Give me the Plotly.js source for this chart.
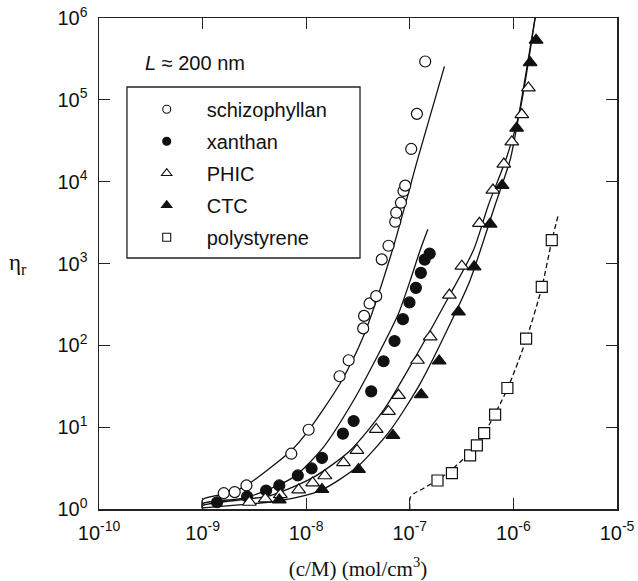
<!DOCTYPE html>
<html><head><meta charset="utf-8">
<script src="https://cdn.plot.ly/plotly-3.0.1.min.js"></script>
<style>html,body{margin:0;padding:0;background:#fff}#chart{width:638px;height:581px}</style>
</head><body><div id="chart"></div>
<script>
// ---- data ----
const schizoX = [1.60e-9, 2.04e-9, 2.65e-9, 7.18e-9, 1.055e-8, 2.10e-8, 2.57e-8, 3.55e-8, 3.62e-8, 4.09e-8, 4.74e-8, 5.36e-8, 6.23e-8, 7.23e-8, 7.39e-8, 8.21e-8, 8.69e-8, 9.03e-8, 1.032e-7, 1.171e-7, 1.408e-7];
const schizoY = [1.56, 1.61, 1.94, 4.74, 9.3, 41.9, 65.7, 161, 229, 325, 399, 1122, 1647, 3240, 4175, 5530, 7700, 8940, 25100, 67400, 294000];

const xanthanX = [1.38e-9, 2.69e-9, 4.10e-9, 5.50e-9, 8.30e-9, 1.127e-8, 1.42e-8, 2.26e-8, 2.87e-8, 4.24e-8, 5.58e-8, 7.12e-8, 8.58e-8, 9.93e-8, 1.145e-7, 1.279e-7, 1.392e-7, 1.555e-7];
const xanthanY = [1.21, 1.42, 1.68, 1.94, 2.57, 3.13, 4.21, 8.33, 11.9, 27.4, 63.9, 113, 209, 334, 504, 769, 1116, 1322];

const phicX = [2.83e-9, 4.03e-9, 5.63e-9, 8.45e-9, 1.153e-8, 1.512e-8, 2.29e-8, 3.09e-8, 4.74e-8, 6.23e-8, 7.78e-8, 1.187e-7, 1.573e-7, 2.41e-7, 3.18e-7, 4.70e-7, 6.34e-7, 8.08e-7, 9.65e-7, 1.205e-6, 1.395e-6];
const phicY = [1.21, 1.33, 1.50, 1.71, 2.08, 2.55, 3.68, 5.20, 9.40, 15.6, 24.5, 65.7, 127, 411, 929, 3100, 7900, 16400, 30600, 66100, 140000];

const ctcX = [5.50e-9, 1.42e-8, 3.20e-8, 6.87e-8, 1.288e-7, 1.92e-7, 2.95e-7, 4.18e-7, 5.96e-7, 7.78e-7, 1.074e-6, 1.449e-6, 1.656e-6];
const ctcY = [1.29, 1.73, 3.04, 7.94, 24.9, 64.4, 256, 911, 3035, 8990, 45000, 284000, 535000];

const psX = [1.85e-7, 2.55e-7, 3.82e-7, 4.44e-7, 5.22e-7, 6.66e-7, 8.75e-7, 1.326e-6, 1.879e-6, 2.346e-6];
const psY = [2.23, 2.74, 4.52, 5.99, 8.47, 14.2, 30.1, 121, 519, 1934];

// theory curves
const schizoFitX = [1.0e-9, 1.0e-9, 2.0e-9, 2.9e-9, 7.18e-9, 1.05e-8, 2.13e-8, 3.55e-8, 6.8e-8, 1.21e-7, 2.16e-7];
const schizoFitY = [1.0, 1.30, 1.62, 2.10, 5.2, 9.1, 34.4, 127, 1460, 20200, 256000];
const xanthanFitX = [1.0e-9, 1.0e-9, 2.69e-9, 7.56e-9, 1.47e-8, 2.87e-8, 4.82e-8, 7.73e-8, 1.0e-7, 1.26e-7, 1.495e-7];
const xanthanFitY = [1.0, 1.16, 1.39, 2.45, 5.71, 21.3, 72, 240, 600, 1459, 2615];
const phicFitX = [1.0e-9, 1.0e-9, 4.5e-9, 1.18e-8, 2.66e-8, 5.58e-8, 1.086e-7, 2.28e-7, 4.12e-7, 5.74e-7, 8.64e-7, 1.16e-6, 1.62e-6];
const phicFitY = [1.0, 1.10, 1.46, 2.45, 5.20, 16.1, 65.7, 356, 1459, 5185, 20200, 75400, 1.0e6];
const ctcFitX = [1.0e-9, 5.63e-9, 1.37e-8, 3.09e-8, 6.47e-8, 1.26e-7, 2.64e-7, 3.82e-7, 6.66e-7, 9.29e-7, 1.086e-6, 1.62e-6];
const ctcFitY = [1.03, 1.27, 1.68, 3.25, 9.14, 34.1, 223, 626, 5185, 18400, 49400, 1.0e6];
const psFitX = [1.0e-7, 1.01e-7, 1.1e-7, 1.35e-7, 2.28e-7, 3.55e-7, 5.2e-7, 8.7e-7, 1.33e-6, 1.88e-6, 2.35e-6, 2.72e-6];
const psFitY = [1.0, 1.38, 1.55, 1.78, 2.72, 4.5, 8.3, 29, 118, 510, 1900, 4000];

const seriesNames = ['schizophyllan', 'xanthan', 'PHIC', 'CTC', 'polystyrene'];
const xTickVals = [1e-10, 1e-9, 1e-8, 1e-7, 1e-6, 1e-5];
const xTickText = ['10<sup>-10</sup>', '10<sup>-9</sup>', '10<sup>-8</sup>', '10<sup>-7</sup>', '10<sup>-6</sup>', '10<sup>-5</sup>'];
const yTickVals = [1, 10, 100, 1e3, 1e4, 1e5, 1e6];
const yTickText = ['10<sup>0</sup>', '10<sup>1</sup>', '10<sup>2</sup>', '10<sup>3</sup>', '10<sup>4</sup>', '10<sup>5</sup>', '10<sup>6</sup>'];

// ---- traces ----
const INK = '#111';
const SYMBOLS = ['circle', 'circle', 'triangle-up', 'triangle-up', 'square'];
const FILLS = ['#fff', INK, '#fff', INK, '#fff'];
const SIZES = [11, 11, 12, 12, 11];
const LEG_SIZES = [8, 8, 9, 9, 8];

function fit(x, y, dash) {
  return {x: x, y: y, mode: 'lines', type: 'scatter', showlegend: false, hoverinfo: 'skip',
          line: {color: INK, width: 1.3, shape: 'spline', smoothing: 0.7, dash: dash || 'solid'}};
}
function pts(x, y, i) {
  return {x: x, y: y, mode: 'markers', type: 'scatter', name: seriesNames[i], showlegend: false,
          marker: {symbol: SYMBOLS[i], size: SIZES[i], color: FILLS[i], line: {color: INK, width: 1.2}}};
}
// legend-only entries (smaller symbols, as in the reference legend box)
function leg(i) {
  return {x: [null], y: [null], mode: 'markers', type: 'scatter', name: seriesNames[i],
          legendgroup: seriesNames[i], showlegend: true,
          marker: {symbol: SYMBOLS[i], size: LEG_SIZES[i], color: FILLS[i], line: {color: INK, width: 1.1}}};
}
const traces = [
  fit(schizoFitX, schizoFitY),
  fit(xanthanFitX, xanthanFitY),
  fit(phicFitX, phicFitY),
  fit(ctcFitX, ctcFitY),
  fit(psFitX, psFitY, '5px,3px'),
  pts(schizoX, schizoY, 0),
  pts(xanthanX, xanthanY, 1),
  pts(phicX, phicY, 2),
  pts(ctcX, ctcY, 3),
  pts(psX, psY, 4),
  leg(0), leg(1), leg(2), leg(3), leg(4)
];

const axisCommon = {
  type: 'log', showgrid: false, zeroline: false, showline: true, mirror: 'ticks',
  linecolor: '#222', linewidth: 1.5, ticks: 'inside', ticklen: 11, tickwidth: 1.3, tickcolor: '#222',
  tickmode: 'array', tickfont: {family: 'Arial, Liberation Sans, sans-serif', size: 20, color: '#111'}
};

const layout = {
  width: 638, height: 581,
  margin: {l: 99, r: 21, t: 18, b: 72},
  paper_bgcolor: '#fff', plot_bgcolor: '#fff',
  font: {family: 'Arial, Liberation Sans, sans-serif', color: '#111'},
  xaxis: Object.assign({}, axisCommon, {
    range: [-10, -5], tickvals: xTickVals, ticktext: xTickText, ticklabelstandoff: 5,
    title: {text: '(c/M) (mol/cm<sup>3</sup>)', font: {family: 'Liberation Serif, Times New Roman, serif', size: 21, color: '#111'}, standoff: 20}
  }),
  yaxis: Object.assign({}, axisCommon, {
    range: [0, 6], tickvals: yTickVals, ticktext: yTickText, ticklabelstandoff: 6
  }),
  showlegend: true,
  legend: {
    x: 0.0535, y: 0.854, xanchor: 'left', yanchor: 'top',
    borderwidth: 0, bgcolor: 'rgba(0,0,0,0)',
    font: {family: 'Arial, Liberation Sans, sans-serif', size: 20, color: '#111'},
    itemwidth: 70, tracegroupgap: 3, traceorder: 'grouped'
  },
  shapes: [
    {type: 'rect', xref: 'paper', yref: 'paper', x0: 0.054, x1: 0.5039, y0: 0.5112, y1: 0.8595,
     line: {color: '#222', width: 1.3}, fillcolor: 'rgba(0,0,0,0)', layer: 'above'}
  ],
  annotations: [
    {xref: 'paper', yref: 'paper', x: 0.085, y: 0.908, xanchor: 'left', yanchor: 'middle', showarrow: false,
     text: '<i>L</i> ≈ 200 nm', font: {family: 'Arial, Liberation Sans, sans-serif', size: 20, color: '#111'}},
    {xref: 'paper', yref: 'paper', x: -0.156, y: 0.499, xanchor: 'center', yanchor: 'middle', showarrow: false,
     text: 'η<sub>r</sub>', font: {family: 'Liberation Serif, Times New Roman, serif', size: 23, color: '#111'}}
  ]
};

Plotly.newPlot('chart', traces, layout, {staticPlot: true, displayModeBar: false});
</script>
</body></html>
